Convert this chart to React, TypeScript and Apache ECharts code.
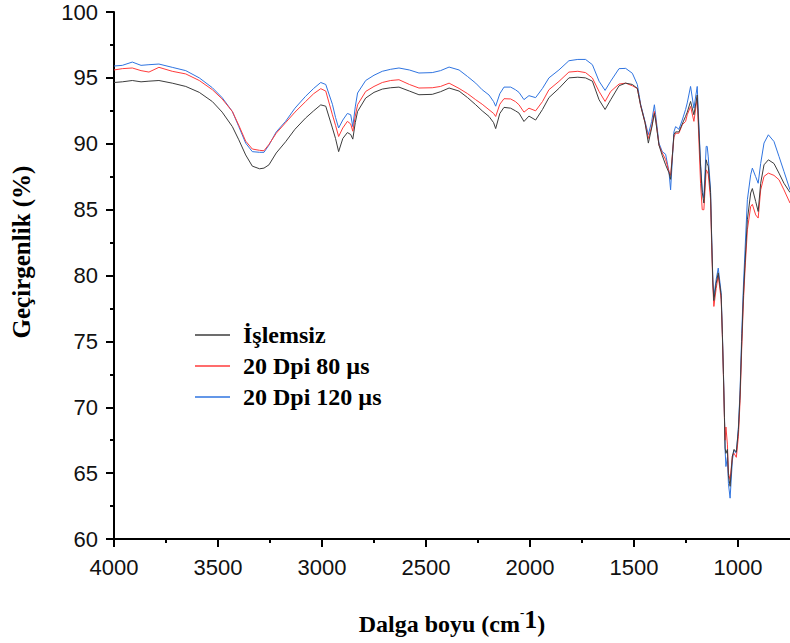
import React, { useEffect, useRef } from "react";
import * as echarts from "echarts";

const wavenumbers = [
  4000, 3960, 3912, 3870, 3832, 3784, 3720, 3655, 3590, 3527, 3480, 3431, 3400, 3367, 3335, 3300, 3279, 3255, 3220, 3175,
  3130, 3079, 3040, 3006, 2982, 2950, 2935, 2920, 2900, 2878, 2862, 2852, 2840, 2829, 2790, 2750, 2710, 2670, 2630, 2580,
  2534, 2470, 2430, 2389, 2341, 2300, 2261, 2230, 2197, 2175, 2165, 2145, 2125, 2093, 2070, 2053, 2029, 2005, 1973, 1940,
  1909, 1861, 1813, 1770, 1733, 1700, 1668, 1639, 1612, 1572, 1540, 1508, 1484, 1468, 1447, 1431, 1415, 1402, 1396, 1380,
  1364, 1348, 1332, 1324, 1308, 1300, 1284, 1268, 1252, 1244, 1228, 1212, 1196, 1180, 1172, 1164, 1153, 1148, 1143, 1132,
  1127, 1121, 1116, 1105, 1095, 1081, 1075, 1070, 1065, 1062, 1058, 1051, 1046, 1038, 1027, 1019, 1008, 998, 990, 982,
  974, 966, 955, 939, 931, 915, 903, 891, 875, 854, 827, 803, 779, 750,
];

const islemsiz = [
  94.65, 94.7, 94.8, 94.7, 94.75, 94.8, 94.6, 94.35, 93.9, 93.2, 92.4, 91.3, 90.3, 89.15, 88.3, 88.1, 88.15, 88.4, 89.3, 90.15,
  91.1, 91.95, 92.5, 92.95, 92.85, 91.2, 90.4, 89.4, 90.4, 90.85, 90.7, 90.35, 91.6, 92.45, 93.47, 93.9, 94.15, 94.25, 94.3, 94.0,
  93.72, 93.75, 93.95, 94.23, 94.0, 93.5, 92.96, 92.5, 92.07, 91.6, 91.15, 92.3, 92.76, 92.7, 92.5, 92.33, 91.69, 92.1, 91.8, 92.6,
  93.5, 94.2, 95.0, 95.05, 95.0, 94.75, 93.34, 92.6, 93.34, 94.4, 94.6, 94.5, 94.2, 92.9, 91.6, 90.05, 91.2, 92.3, 91.8, 89.9,
  89.1, 88.4, 87.8, 87.3, 90.7, 90.9, 90.9, 91.5, 92.08, 92.4, 93.21, 92.2, 93.7, 88.3, 86.3, 85.5, 88.78, 88.5, 88.3, 86.3,
  83.0, 79.5, 78.1, 79.4, 80.2, 78.5, 75.5, 72.5, 69.2, 66.9, 66.5, 66.8, 64.8, 64.0, 66.3, 66.8, 66.6, 68.3, 71.0, 75.0,
  78.5, 81.0, 84.23, 86.26, 86.6, 85.62, 84.86, 87.0, 88.4, 88.78, 88.5, 87.77, 87.0, 86.3,
];

const dpi80 = [
  95.6, 95.7, 95.75, 95.55, 95.44, 95.8, 95.5, 95.3, 94.8, 94.1, 93.4, 92.45, 91.4, 90.2, 89.6, 89.5, 89.47, 89.95, 90.8, 91.6,
  92.4, 93.2, 93.8, 94.18, 94.0, 92.2, 91.4, 90.55, 91.2, 91.7, 91.5, 90.95, 92.1, 92.96, 93.97, 94.35, 94.65, 94.8, 94.86, 94.5,
  94.23, 94.25, 94.35, 94.6, 94.2, 93.8, 93.34, 93.0, 92.58, 92.3, 92.07, 93.0, 93.42, 93.4, 93.2, 92.96, 92.4, 92.7, 92.5, 93.2,
  94.1, 94.73, 95.44, 95.5, 95.4, 94.99, 93.97, 93.21, 93.97, 94.53, 94.6, 94.4, 94.2, 92.9, 91.6, 90.4, 91.3, 92.45, 91.9, 89.9,
  89.3, 88.8, 87.9, 87.6, 90.5, 90.8, 90.8, 91.44, 91.69, 92.2, 92.83, 91.7, 93.5, 87.0, 85.0, 84.99, 88.02, 87.9, 87.7, 85.8,
  82.5, 79.2, 77.65, 79.0, 80.0, 78.2, 75.3, 72.3, 69.0, 67.5, 68.5, 67.2, 65.0, 64.5, 66.3, 66.5, 66.2, 67.8, 70.5, 74.5,
  78.0, 80.5, 83.47, 85.24, 85.4, 84.6, 84.36, 86.5, 87.52, 87.77, 87.6, 87.27, 86.5, 85.5,
];

const dpi120 = [
  95.9, 95.95, 96.2, 95.95, 96.0, 96.05, 95.8, 95.55, 95.0, 94.25, 93.5, 92.45, 91.3, 90.05, 89.4, 89.35, 89.35, 89.9, 90.9, 91.7,
  92.7, 93.6, 94.2, 94.65, 94.5, 93.0, 92.0, 91.2, 91.8, 92.3, 92.2, 91.3, 92.8, 93.85, 94.8, 95.2, 95.5, 95.65, 95.75, 95.6,
  95.37, 95.4, 95.55, 95.82, 95.6, 95.1, 94.6, 94.1, 93.7, 93.2, 92.85, 93.8, 94.3, 94.3, 94.1, 93.9, 93.35, 93.65, 93.5, 94.2,
  95.0, 95.6, 96.3, 96.4, 96.4, 96.0, 94.75, 94.05, 94.75, 95.7, 95.72, 95.35, 94.5, 93.0, 91.7, 90.7, 91.7, 92.96, 92.2, 90.05,
  89.4, 89.2, 87.9, 86.5, 90.9, 91.3, 91.1, 91.8, 92.6, 93.1, 94.35, 92.7, 94.35, 88.5, 86.5, 85.9, 89.8, 89.8, 89.0, 86.5,
  83.2, 79.7, 78.4, 79.7, 80.56, 78.7, 75.6, 72.6, 69.3, 66.75, 65.5, 66.2, 64.2, 63.1, 66.0, 66.75, 66.5, 68.5, 71.3, 75.6,
  79.2, 82.0, 85.75, 87.65, 88.15, 87.5, 87.0, 88.5, 90.05, 90.68, 90.17, 89.04, 87.9, 86.5,
];

const seriesNames = ["İşlemsiz", "20 Dpi 80 µs", "20 Dpi 120 µs"];
const seriesValues = [islemsiz, dpi80, dpi120];
const seriesColors = ["#3c3c3c", "#ff3b3b", "#2f74e0"];

const xMajorTicks = [1000, 1500, 2000, 2500, 3000, 3500, 4000];
const xMinorTicks = [1250, 1750, 2250, 2750, 3250, 3750];
const xMin = 750;
const xMax = 4000;
const yMin = 60;
const yMax = 100;
const yStep = 5;

const SERIF = '"Liberation Serif", "Times New Roman", serif';
const SANS = '"Liberation Sans", Arial, sans-serif';

export default function App() {
  const ref = useRef<HTMLDivElement>(null);

  useEffect(() => {
    if (!ref.current) return;
    const chart = echarts.init(ref.current, null, { renderer: "svg" });

    const axisLineStyle = { color: "#000", width: 2 };

    const option: any = {
      animation: false,
      backgroundColor: "#fff",
      grid: { left: 114, right: 0, top: 12, bottom: 104, containLabel: false },
      legend: {
        orient: "vertical",
        left: 190,
        top: 318,
        itemWidth: 35,
        itemHeight: 1.5,
        itemGap: 7,
        icon: "rect",
        data: seriesNames,
        textStyle: {
          fontFamily: SERIF,
          fontWeight: "bold",
          fontSize: 24,
          color: "#000",
          padding: [0, 0, 0, 8],
          lineHeight: 24,
        },
      },
      xAxis: [
        {
          type: "value",
          inverse: true,
          min: xMin,
          max: xMax,
          position: "bottom",
          splitLine: { show: false },
          axisLine: { show: true, onZero: false, lineStyle: axisLineStyle },
          axisTick: {
            show: true,
            inside: false,
            length: 8,
            customValues: xMajorTicks,
            lineStyle: { color: "#000", width: 2 },
          },
          axisLabel: {
            show: true,
            customValues: xMajorTicks,
            formatter: (v: number) => String(v),
            margin: 17,
            fontFamily: SANS,
            fontSize: 22,
            color: "#111",
          },
          name: "{base|Dalga boyu (cm}{dash|-}{sup|1}{base|)}",
          nameLocation: "middle",
          nameGap: 67,
          nameTextStyle: {
            rich: {
              base: { fontFamily: SERIF, fontWeight: "bold", fontSize: 24, color: "#000", lineHeight: 30, verticalAlign: "bottom" },
              dash: { fontFamily: SERIF, fontWeight: "bold", fontSize: 13, color: "#000", lineHeight: 30, verticalAlign: "top" },
              sup: { fontFamily: SERIF, fontWeight: "bold", fontSize: 26, color: "#000", lineHeight: 30, verticalAlign: "top" },
            },
          },
        },
        {
          type: "value",
          inverse: true,
          min: xMin,
          max: xMax,
          position: "bottom",
          splitLine: { show: false },
          axisLine: { show: false, onZero: false },
          axisTick: {
            show: true,
            length: 4,
            customValues: xMinorTicks,
            lineStyle: { color: "#000", width: 2 },
          },
          axisLabel: { show: false },
        },
      ],
      yAxis: {
        type: "value",
        min: yMin,
        max: yMax,
        interval: yStep,
        splitLine: { show: false },
        axisLine: { show: true, onZero: false, lineStyle: axisLineStyle },
        axisTick: { show: true, length: 8, lineStyle: { color: "#000", width: 2 } },
        minorTick: { show: true, splitNumber: 2, length: 4, lineStyle: { color: "#000", width: 2 } },
        minorSplitLine: { show: false },
        axisLabel: {
          margin: 16,
          fontFamily: SANS,
          fontSize: 22,
          color: "#111",
        },
      },
      graphic: [
        {
          type: "text",
          x: 21,
          y: 252,
          rotation: Math.PI / 2,
          style: {
            text: "Geçirgenlik (%)",
            font: `bold 25px ${SERIF}`,
            fill: "#000",
            align: "center",
            verticalAlign: "middle",
          },
        },
      ],
      series: seriesNames.map((name, i) => ({
        name,
        type: "line",
        xAxisIndex: 0,
        yAxisIndex: 0,
        symbol: "none",
        showSymbol: false,
        smooth: false,
        lineStyle: { color: seriesColors[i], width: 1 },
        itemStyle: { color: seriesColors[i] },
        data: wavenumbers.map((w, j) => [w, seriesValues[i][j]]),
        z: i === 0 ? 4 : i === 1 ? 3 : 2,
      })),
    };

    chart.setOption(option);
    return () => chart.dispose();
  }, []);

  return (
    <div
      ref={ref}
      style={{ position: "fixed", left: 0, top: 0, width: 790, height: 643, background: "#fff" }}
    />
  );
}
